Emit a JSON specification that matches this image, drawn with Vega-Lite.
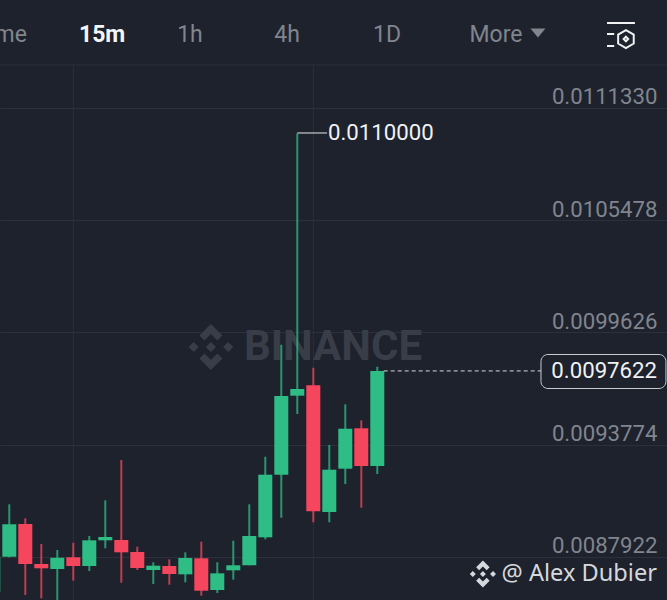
{
  "$schema": "https://vega.github.io/schema/vega-lite/v6.json",
  "width": 667,
  "height": 600,
  "autosize": {"type": "none"},
  "padding": 0,
  "background": "#1e222d",
  "view": {"stroke": null},
  "config": {"text": {"font": "Roboto"}},
  "datasets": {
    "candles": [
      {"slot": 0, "dir": "up", "open": 0.0086112, "close": 0.0087937, "high": 0.0087937, "low": 0.0086112},
      {"slot": 1, "dir": "up", "open": 0.0087937, "close": 0.0089626, "high": 0.0090669, "low": 0.0087906},
      {"slot": 2, "dir": "down", "open": 0.0089642, "close": 0.0087556, "high": 0.0089939, "low": 0.008594},
      {"slot": 3, "dir": "down", "open": 0.0087556, "close": 0.0087332, "high": 0.0088599, "low": 0.0085768},
      {"slot": 4, "dir": "up", "open": 0.0087296, "close": 0.0087885, "high": 0.0088286, "low": 0.008568},
      {"slot": 5, "dir": "down", "open": 0.0087906, "close": 0.0087452, "high": 0.0088667, "low": 0.0086686},
      {"slot": 6, "dir": "up", "open": 0.0087452, "close": 0.0088792, "high": 0.0089016, "low": 0.0087191},
      {"slot": 7, "dir": "up", "open": 0.0088792, "close": 0.0088964, "high": 0.0090877, "low": 0.0088375},
      {"slot": 8, "dir": "down", "open": 0.0088808, "close": 0.0088166, "high": 0.0092978, "low": 0.0086581},
      {"slot": 9, "dir": "down", "open": 0.0088182, "close": 0.0087348, "high": 0.0088458, "low": 0.0087244},
      {"slot": 10, "dir": "up", "open": 0.0087244, "close": 0.0087468, "high": 0.0087645, "low": 0.0086514},
      {"slot": 11, "dir": "down", "open": 0.0087452, "close": 0.0087035, "high": 0.0087801, "low": 0.0086477},
      {"slot": 12, "dir": "up", "open": 0.0087019, "close": 0.0087869, "high": 0.0088166, "low": 0.0086602},
      {"slot": 13, "dir": "down", "open": 0.0087854, "close": 0.0086164, "high": 0.0088719, "low": 0.0085904},
      {"slot": 14, "dir": "up", "open": 0.0086201, "close": 0.0087071, "high": 0.0087645, "low": 0.0086045},
      {"slot": 15, "dir": "up", "open": 0.0087228, "close": 0.0087489, "high": 0.0088771, "low": 0.0086738},
      {"slot": 16, "dir": "up", "open": 0.0087489, "close": 0.0089016, "high": 0.0090669, "low": 0.0087489},
      {"slot": 17, "dir": "up", "open": 0.0088948, "close": 0.0092212, "high": 0.009315, "low": 0.0088844},
      {"slot": 18, "dir": "up", "open": 0.0092212, "close": 0.0096315, "high": 0.009899, "low": 0.008997},
      {"slot": 19, "dir": "up", "open": 0.0096331, "close": 0.009668, "high": 0.011, "low": 0.0095377},
      {"slot": 20, "dir": "down", "open": 0.0096873, "close": 0.0090304, "high": 0.009779, "low": 0.0089731},
      {"slot": 21, "dir": "up", "open": 0.0090267, "close": 0.0092473, "high": 0.009376, "low": 0.0089731},
      {"slot": 22, "dir": "up", "open": 0.0092525, "close": 0.009461, "high": 0.0095882, "low": 0.0091727},
      {"slot": 23, "dir": "down", "open": 0.0094631, "close": 0.0092666, "high": 0.0095048, "low": 0.0090491},
      {"slot": 24, "dir": "up", "open": 0.0092666, "close": 0.0097622, "high": 0.0097842, "low": 0.0092248}
    ]
  },
  "layer": [
    {
      "data": {"values": [{"slot": 5}, {"slot": 20}]},
      "mark": {"type": "rule", "color": "#2b303a", "strokeWidth": 1},
      "encoding": {
        "x": {"field": "slot", "type": "quantitative", "scale": {"domain": [0.419, 42.106], "nice": false, "zero": false, "padding": 0}, "axis": null},
        "y": {"datum": 0.0113572, "type": "quantitative", "scale": {"domain": [0.008568, 0.011696], "nice": false, "zero": false}},
        "y2": {"datum": 0.008568}
      }
    },
    {
      "data": {"values": [{"price": 0.0113572}]},
      "mark": {"type": "rule", "color": "#2b303a", "strokeWidth": 1},
      "encoding": {
        "y": {"field": "price", "type": "quantitative", "scale": {"domain": [0.008568, 0.011696], "nice": false, "zero": false}}
      }
    },
    {
      "data": {"values": [{"slot": 15.67, "price": 0.009887, "name": "BINANCE"}]},
      "mark": {"type": "text", "align": "left", "baseline": "middle", "fontSize": 42, "fontWeight": "bold", "color": "#383d48", "font": "Roboto"},
      "encoding": {
        "x": {"field": "slot", "type": "quantitative", "scale": {"domain": [0.419, 42.106], "nice": false, "zero": false, "padding": 0}},
        "y": {"field": "price", "type": "quantitative", "scale": {"domain": [0.008568, 0.011696], "nice": false, "zero": false}},
        "text": {"field": "name"}
      }
    },
    {
      "data": {"values": [{"slot": 13.6, "price": 0.009887}]},
      "mark": {"type": "point", "filled": true, "opacity": 1, "size": 2116, "color": "#383d48", "shape": "M0 -1L.5 -.5L.28 -.28L0 -.56L-.28 -.28L-.5 -.5ZM0 1L.5 .5L.28 .28L0 .56L-.28 .28L-.5 .5ZM0 -.22L.22 0L0 .22L-.22 0ZM-.75 -.22L-.53 0L-.75 .22L-.97 0ZM.75 -.22L.97 0L.75 .22L.53 0Z"},
      "encoding": {
        "x": {"field": "slot", "type": "quantitative", "scale": {"domain": [0.419, 42.106], "nice": false, "zero": false, "padding": 0}},
        "y": {"field": "price", "type": "quantitative", "scale": {"domain": [0.008568, 0.011696], "nice": false, "zero": false}}
      }
    },
    {
      "data": {"name": "candles"},
      "mark": {"type": "rule", "strokeWidth": 2, "opacity": 0.75},
      "encoding": {
        "x": {"field": "slot", "type": "quantitative", "scale": {"domain": [0.419, 42.106], "nice": false, "zero": false, "padding": 0}},
        "y": {
          "field": "low",
          "type": "quantitative",
          "scale": {"domain": [0.008568, 0.011696], "nice": false, "zero": false},
          "axis": {
            "orient": "right",
            "title": null,
            "values": [0.0087922, 0.0093774, 0.0099626, 0.0105478, 0.011133],
            "format": ".7f",
            "grid": true,
            "gridColor": "#2b303a",
            "domain": false,
            "ticks": false,
            "labelFont": "Roboto",
            "labelFontSize": 22.2,
            "labelColor": "#80858e",
            "labelAlign": "right",
            "labelPadding": -10,
            "labelOffset": -11,
            "labelOverlap": false,
            "labelBound": false
          }
        },
        "y2": {"field": "high"},
        "color": {"field": "dir", "type": "nominal", "scale": {"domain": ["up", "down"], "range": ["#2ebd85", "#f6465d"]}, "legend": null}
      }
    },
    {
      "data": {"name": "candles"},
      "mark": {"type": "bar", "size": 14, "clip": true},
      "encoding": {
        "x": {"field": "slot", "type": "quantitative", "scale": {"domain": [0.419, 42.106], "nice": false, "zero": false, "padding": 0}},
        "y": {"field": "open", "type": "quantitative", "scale": {"domain": [0.008568, 0.011696], "nice": false, "zero": false}},
        "y2": {"field": "close"},
        "color": {"field": "dir", "type": "nominal", "legend": null}
      }
    },
    {
      "data": {"values": [{"from": 19, "to": 20.86, "price": 0.0110027}]},
      "mark": {"type": "rule", "color": "#e8e9eb", "strokeWidth": 1},
      "encoding": {
        "x": {"field": "from", "type": "quantitative", "scale": {"domain": [0.419, 42.106], "nice": false, "zero": false, "padding": 0}},
        "x2": {"field": "to"},
        "y": {"field": "price", "type": "quantitative", "scale": {"domain": [0.008568, 0.011696], "nice": false, "zero": false}}
      }
    },
    {
      "data": {"values": [{"slot": 20.92, "price": 0.0110027, "label": "0.0110000"}]},
      "mark": {"type": "text", "align": "left", "baseline": "middle", "fontSize": 22.2, "color": "#f0f1f2"},
      "encoding": {
        "x": {"field": "slot", "type": "quantitative", "scale": {"domain": [0.419, 42.106], "nice": false, "zero": false, "padding": 0}},
        "y": {"field": "price", "type": "quantitative", "scale": {"domain": [0.008568, 0.011696], "nice": false, "zero": false}},
        "text": {"field": "label"}
      }
    },
    {
      "data": {"values": [{"from": 24.4, "to": 34.23, "price": 0.0097622}]},
      "mark": {"type": "rule", "color": "#d5d8dc", "strokeWidth": 1, "strokeDash": [4, 3]},
      "encoding": {
        "x": {"field": "from", "type": "quantitative", "scale": {"domain": [0.419, 42.106], "nice": false, "zero": false, "padding": 0}},
        "x2": {"field": "to"},
        "y": {"field": "price", "type": "quantitative", "scale": {"domain": [0.008568, 0.011696], "nice": false, "zero": false}}
      }
    },
    {
      "data": {"values": [{"from": 34.23, "to": 42.04, "top": 0.0098479, "bottom": 0.0096707}]},
      "mark": {"type": "rect", "fill": "#1e222d", "stroke": "#c9ccd1", "strokeWidth": 1, "cornerRadius": 7},
      "encoding": {
        "x": {"field": "from", "type": "quantitative", "scale": {"domain": [0.419, 42.106], "nice": false, "zero": false, "padding": 0}},
        "x2": {"field": "to"},
        "y": {"field": "top", "type": "quantitative", "scale": {"domain": [0.008568, 0.011696], "nice": false, "zero": false}},
        "y2": {"field": "bottom"}
      }
    },
    {
      "data": {"values": [{"slot": 41.48, "price": 0.0097622, "label": "0.0097622"}]},
      "mark": {"type": "text", "align": "right", "baseline": "middle", "fontSize": 22.2, "color": "#f0f1f2"},
      "encoding": {
        "x": {"field": "slot", "type": "quantitative", "scale": {"domain": [0.419, 42.106], "nice": false, "zero": false, "padding": 0}},
        "y": {"field": "price", "type": "quantitative", "scale": {"domain": [0.008568, 0.011696], "nice": false, "zero": false}},
        "text": {"field": "label"}
      }
    },
    {
      "data": {"values": [{"slot": 2.1, "price": 0.0115136, "tab": "Time"}]},
      "mark": {"type": "text", "align": "right", "baseline": "middle", "fontSize": 23, "color": "#80858e"},
      "encoding": {
        "x": {"field": "slot", "type": "quantitative", "scale": {"domain": [0.419, 42.106], "nice": false, "zero": false, "padding": 0}},
        "y": {"field": "price", "type": "quantitative", "scale": {"domain": [0.008568, 0.011696], "nice": false, "zero": false}},
        "text": {"field": "tab"}
      }
    },
    {
      "data": {"values": [{"slot": 6.8, "price": 0.0115136, "tab": "15m"}]},
      "mark": {"type": "text", "align": "center", "baseline": "middle", "fontSize": 23, "fontWeight": "bold", "color": "#f4f5f6"},
      "encoding": {
        "x": {"field": "slot", "type": "quantitative", "scale": {"domain": [0.419, 42.106], "nice": false, "zero": false, "padding": 0}},
        "y": {"field": "price", "type": "quantitative", "scale": {"domain": [0.008568, 0.011696], "nice": false, "zero": false}},
        "text": {"field": "tab"}
      }
    },
    {
      "data": {"values": [
        {"slot": 12.29, "price": 0.0115136, "tab": "1h"},
        {"slot": 18.36, "price": 0.0115136, "tab": "4h"},
        {"slot": 24.61, "price": 0.0115136, "tab": "1D"},
        {"slot": 31.42, "price": 0.0115136, "tab": "More"}
      ]},
      "mark": {"type": "text", "align": "center", "baseline": "middle", "fontSize": 23, "color": "#80858e"},
      "encoding": {
        "x": {"field": "slot", "type": "quantitative", "scale": {"domain": [0.419, 42.106], "nice": false, "zero": false, "padding": 0}},
        "y": {"field": "price", "type": "quantitative", "scale": {"domain": [0.008568, 0.011696], "nice": false, "zero": false}},
        "text": {"field": "tab"}
      }
    },
    {
      "data": {"values": [{"slot": 34.04, "price": 0.011524}]},
      "mark": {"type": "point", "filled": true, "opacity": 1, "size": 225, "color": "#80858e", "shape": "M-1 -.6L1 -.6L0 .6Z"},
      "encoding": {
        "x": {"field": "slot", "type": "quantitative", "scale": {"domain": [0.419, 42.106], "nice": false, "zero": false, "padding": 0}},
        "y": {"field": "price", "type": "quantitative", "scale": {"domain": [0.008568, 0.011696], "nice": false, "zero": false}}
      }
    },
    {
      "data": {"values": [{"slot": 39.23, "price": 0.0115136}]},
      "mark": {"type": "point", "filled": false, "opacity": 1, "size": 900, "strokeWidth": 2, "color": "#f0f1f2", "shape": "M-.93 -.8L.93 -.8M-.93 -.07L-.45 -.07M-.93 .73L-.45 .73M.33 -.33L.85 -.03L.85 .57L.33 .87L-.19 .57L-.19 -.03ZM.33 .12L.48 .27L.33 .42L.18 .27Z"},
      "encoding": {
        "x": {"field": "slot", "type": "quantitative", "scale": {"domain": [0.419, 42.106], "nice": false, "zero": false, "padding": 0}},
        "y": {"field": "price", "type": "quantitative", "scale": {"domain": [0.008568, 0.011696], "nice": false, "zero": false}}
      }
    },
    {
      "data": {"values": [{"slot": 30.6, "price": 0.0087035}]},
      "mark": {"type": "point", "filled": true, "opacity": 1, "size": 729, "color": "#d5d8dc", "shape": "M0 -1L.5 -.5L.28 -.28L0 -.56L-.28 -.28L-.5 -.5ZM0 1L.5 .5L.28 .28L0 .56L-.28 .28L-.5 .5ZM0 -.22L.22 0L0 .22L-.22 0ZM-.75 -.22L-.53 0L-.75 .22L-.97 0ZM.75 -.22L.97 0L.75 .22L.53 0Z"},
      "encoding": {
        "x": {"field": "slot", "type": "quantitative", "scale": {"domain": [0.419, 42.106], "nice": false, "zero": false, "padding": 0}},
        "y": {"field": "price", "type": "quantitative", "scale": {"domain": [0.008568, 0.011696], "nice": false, "zero": false}}
      }
    },
    {
      "data": {"values": [{"slot": 41.48, "price": 0.0087035, "label": "@ Alex Dubier"}]},
      "mark": {"type": "text", "align": "right", "baseline": "middle", "fontSize": 23.6, "color": "#d5d8dc", "font": "Noto Sans"},
      "encoding": {
        "x": {"field": "slot", "type": "quantitative", "scale": {"domain": [0.419, 42.106], "nice": false, "zero": false, "padding": 0}},
        "y": {"field": "price", "type": "quantitative", "scale": {"domain": [0.008568, 0.011696], "nice": false, "zero": false}},
        "text": {"field": "label"}
      }
    }
  ]
}
